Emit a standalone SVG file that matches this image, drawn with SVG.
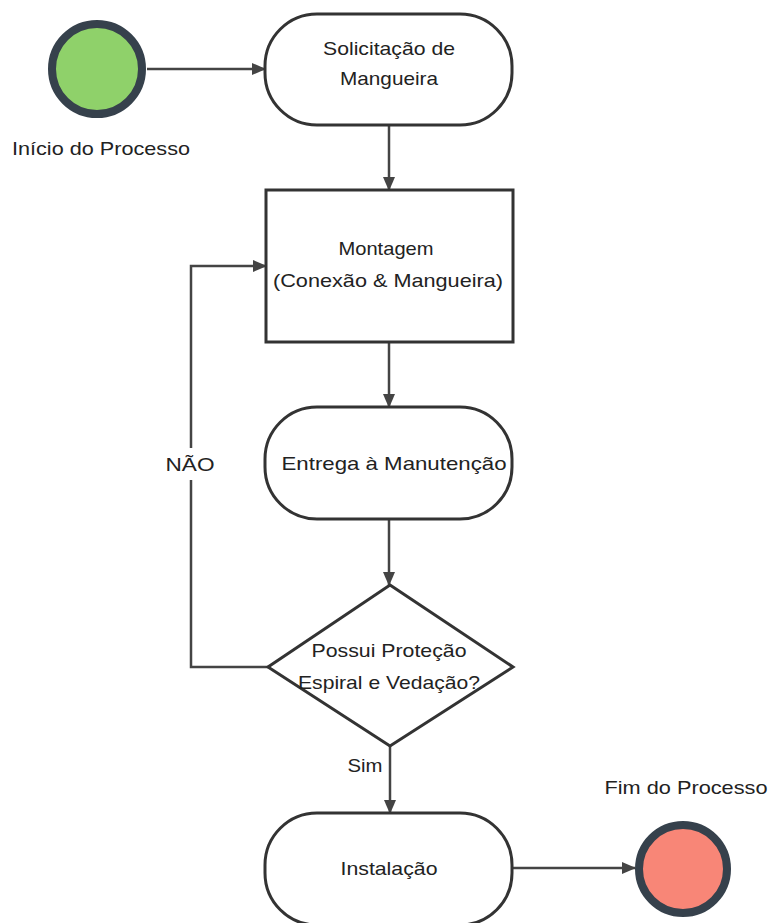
<svg xmlns="http://www.w3.org/2000/svg" width="769" height="923" viewBox="0 0 769 923">
<defs>
<marker id="arr" markerWidth="14" markerHeight="12" refX="13" refY="6" orient="auto" markerUnits="userSpaceOnUse">
<path d="M0,0 L14,6 L0,12 Z" fill="#444"/>
</marker>
<style>
.node{fill:#fff;stroke:#333;stroke-width:3}
.t{font-family:"Liberation Sans",Arial,sans-serif;font-size:19px;fill:#222;text-anchor:middle}
.c{fill:none;stroke:#444;stroke-width:2.5}
.ev{stroke:#36414c;stroke-width:8}
</style>
</defs>
<rect width="769" height="923" fill="#fff"/>
<g id="connectors">
<line class="c" x1="147" y1="69" x2="265" y2="69" marker-end="url(#arr)"/>
<line class="c" x1="389" y1="125" x2="389" y2="190" marker-end="url(#arr)"/>
<line class="c" x1="389" y1="342" x2="389" y2="407" marker-end="url(#arr)"/>
<line class="c" x1="389" y1="519" x2="389" y2="585" marker-end="url(#arr)"/>
<polyline class="c" points="268,667 191,667 191,480"/>
<polyline class="c" points="191,448 191,266 266,266" marker-end="url(#arr)"/>
<line class="c" x1="390" y1="746" x2="390" y2="813" marker-end="url(#arr)"/>
<line class="c" x1="512" y1="868" x2="635" y2="868" marker-end="url(#arr)"/>
<text class="t" x="190" y="471" textLength="49" lengthAdjust="spacingAndGlyphs">NÃO</text>
<text class="t" x="365" y="772" textLength="35" lengthAdjust="spacingAndGlyphs">Sim</text>
</g>
<g id="start">
<circle class="ev" cx="97" cy="69" r="45" fill="#8fd16a"/>
<text class="t" x="101" y="155" textLength="178" lengthAdjust="spacingAndGlyphs">Início do Processo</text>
</g>
<g id="solicitacao">
<rect class="node" x="265" y="14" width="247" height="111" rx="52"/>
<text class="t" x="389" y="55" textLength="132" lengthAdjust="spacingAndGlyphs">Solicitação de</text>
<text class="t" x="389" y="85" textLength="98" lengthAdjust="spacingAndGlyphs">Mangueira</text>
</g>
<g id="montagem">
<rect class="node" x="266" y="190" width="247" height="152"/>
<text class="t" x="386" y="255" textLength="95" lengthAdjust="spacingAndGlyphs">Montagem</text>
<text class="t" x="388" y="287" textLength="230" lengthAdjust="spacingAndGlyphs">(Conexão &amp; Mangueira)</text>
</g>
<g id="entrega">
<rect class="node" x="265" y="407" width="247" height="112" rx="52"/>
<text class="t" x="394" y="470" textLength="225" lengthAdjust="spacingAndGlyphs">Entrega à Manutenção</text>
</g>
<g id="decisao">
<polygon class="node" points="390,585 513,667 390,746 268,667"/>
<text class="t" x="389" y="657" textLength="155" lengthAdjust="spacingAndGlyphs">Possui Proteção</text>
<text class="t" x="389" y="689" textLength="182" lengthAdjust="spacingAndGlyphs">Espiral e Vedação?</text>
</g>
<g id="instalacao">
<rect class="node" x="265" y="813" width="247" height="112" rx="52"/>
<text class="t" x="389" y="875" textLength="97" lengthAdjust="spacingAndGlyphs">Instalação</text>
</g>
<g id="fim">
<circle class="ev" cx="683" cy="869" r="44" fill="#f88677"/>
<text class="t" x="686" y="794" textLength="163" lengthAdjust="spacingAndGlyphs">Fim do Processo</text>
</g>
</svg>
